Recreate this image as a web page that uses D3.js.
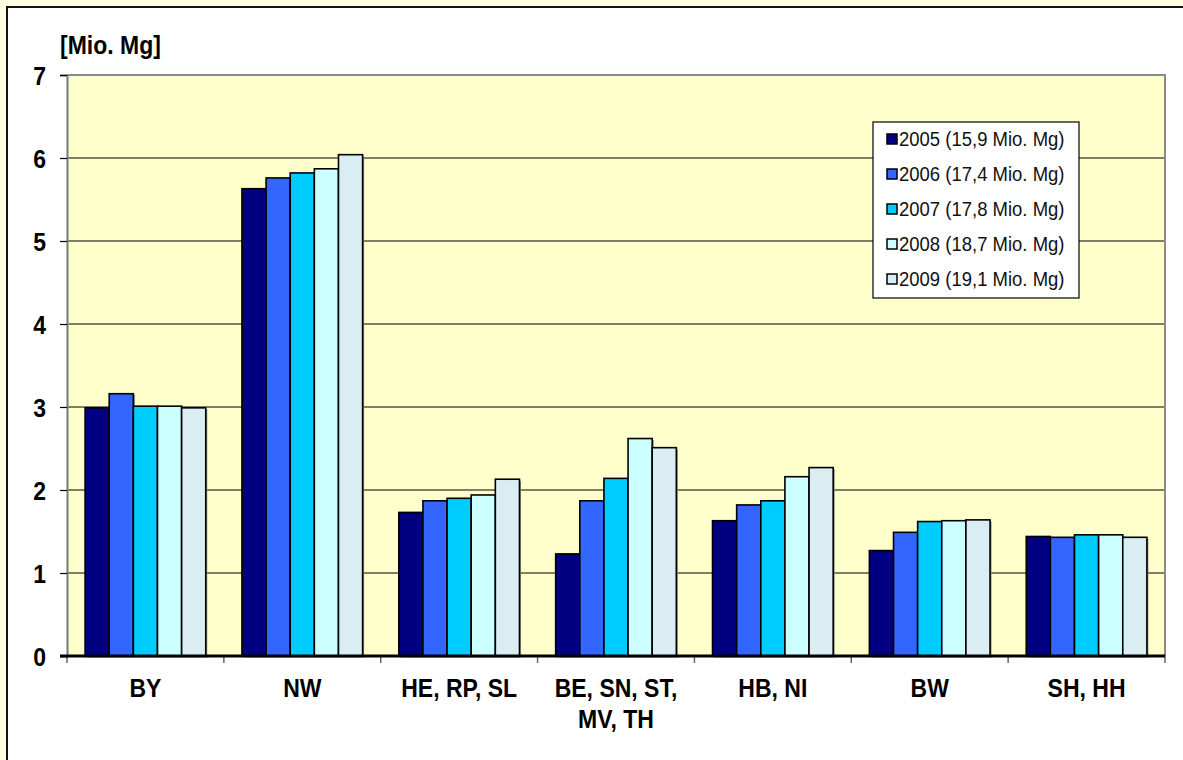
<!DOCTYPE html>
<html>
<head>
<meta charset="utf-8">
<script src="https://cdn.jsdelivr.net/npm/d3@7"></script>
<style>
  html, body { margin: 0; padding: 0; background: #fffde2; }
  svg { display: block; }
  text { font-family: "Liberation Sans", Arial, sans-serif; }
</style>
</head>
<body>
<svg id="chart" width="1183" height="760"></svg>
<script>
// Regions (grouped Länder) and yearly amounts in Mio. Mg
const categories = [["BY"], ["NW"], ["HE, RP, SL"], ["BE, SN, ST,", "MV, TH"], ["HB, NI"], ["BW"], ["SH, HH"]];
const years = ["2005", "2006", "2007", "2008", "2009"];
const legendLabels = ["2005 (15,9 Mio. Mg)", "2006 (17,4 Mio. Mg)", "2007 (17,8 Mio. Mg)", "2008 (18,7 Mio. Mg)", "2009 (19,1 Mio. Mg)"];
const values2005 = [2.99, 5.63, 1.73, 1.23, 1.63, 1.27, 1.44];
const values2006 = [3.16, 5.76, 1.87, 1.87, 1.82, 1.49, 1.43];
const values2007 = [3.01, 5.82, 1.90, 2.14, 1.87, 1.62, 1.46];
const values2008 = [3.01, 5.87, 1.94, 2.62, 2.16, 1.63, 1.46];
const values2009 = [2.99, 6.04, 2.13, 2.51, 2.27, 1.64, 1.43];
const yTicks = [0, 1, 2, 3, 4, 5, 6, 7];
const unitLabel = "[Mio. Mg]";

const series = [values2005, values2006, values2007, values2008, values2009];
const colors = ["#000080", "#3366ff", "#00ccff", "#ccffff", "#daedf3"];

// slightly tall lettering
const STRETCH = 1.1;

const svg = d3.select("#chart");

// white chart sheet with dark frame
svg.append("rect").attr("x", 7).attr("y", 7).attr("width", 1200).attr("height", 800)
  .attr("fill", "#ffffff").attr("stroke", "#111").attr("stroke-width", 2);

const plot = { left: 67, right: 1165, top: 75, bottom: 656 };

const y = d3.scaleLinear().domain([0, 7]).range([plot.bottom, plot.top]);
const catKeys = categories.map(c => c.join(" "));
const x0 = d3.scaleBand().domain(catKeys).range([plot.left, plot.right]).padding(0);
const x1 = d3.scaleBand().domain(years).range([0, x0.bandwidth()]).paddingInner(0).paddingOuter(0.75);

// plot area background
svg.append("rect").attr("x", plot.left).attr("y", plot.top)
  .attr("width", plot.right - plot.left).attr("height", plot.bottom - plot.top)
  .attr("fill", "#ffffcc");

// horizontal gridlines
svg.append("g").selectAll("line").data(yTicks.filter(t => t > 0 && t < 7)).join("line")
  .attr("x1", plot.left).attr("x2", plot.right)
  .attr("y1", d => y(d)).attr("y2", d => y(d))
  .attr("stroke", "#000").attr("stroke-width", 1.2);

// plot frame (top and right)
svg.append("path")
  .attr("d", `M${plot.left},${plot.top}H${plot.right}V${plot.bottom}`)
  .attr("fill", "none").attr("stroke", "#8a8a8a").attr("stroke-width", 2);

// bars
const groups = svg.append("g").selectAll("g").data(catKeys).join("g")
  .attr("transform", d => `translate(${x0(d)},0)`);

groups.each(function(cat, ci) {
  const g = d3.select(this);
  const rows = years.map((yr, si) => ({ yr, si, v: series[si][ci] }));
  // soft shadow on the right edge
  g.selectAll("rect.shadow").data(rows).join("rect").attr("class", "shadow")
    .attr("x", d => x1(d.yr) + 1.5).attr("y", d => y(d.v) + 1.5)
    .attr("width", x1.bandwidth()).attr("height", d => y(0) - y(d.v))
    .attr("fill", "#8c8c8c");
  g.selectAll("rect.bar").data(rows).join("rect").attr("class", "bar")
    .attr("x", d => x1(d.yr)).attr("y", d => y(d.v))
    .attr("width", x1.bandwidth()).attr("height", d => y(0) - y(d.v))
    .attr("fill", d => colors[d.si])
    .attr("stroke", "#000").attr("stroke-width", 1.6);
});

// y axis
const yAxis = d3.axisLeft(y).tickValues(yTicks).tickSize(7).tickPadding(14).tickFormat(d3.format("d"));
const gy = svg.append("g").attr("transform", `translate(${plot.left},0)`).call(yAxis);
gy.select(".domain").attr("stroke", "#777").attr("stroke-width", 2);
gy.selectAll(".tick line").attr("stroke", "#000").attr("stroke-width", 1.2);
gy.selectAll(".tick text").attr("font-size", 23).attr("font-weight", "bold")
  .attr("fill", "#000").attr("dy", "0.36em")
  .attr("transform", `scale(1,${STRETCH})`)
  .attr("font-family", "'Liberation Sans', Arial, sans-serif");

// x axis
const boundaries = catKeys.map(k => x0(k)).concat([plot.right]);
svg.append("g").selectAll("line").data(boundaries).join("line")
  .attr("x1", d => d).attr("x2", d => d)
  .attr("y1", plot.bottom).attr("y2", plot.bottom + 7)
  .attr("stroke", "#666").attr("stroke-width", 1.5);
svg.append("line").attr("x1", plot.left - 7).attr("x2", plot.right)
  .attr("y1", plot.bottom).attr("y2", plot.bottom)
  .attr("stroke", "#000").attr("stroke-width", 3);

// category labels
const xl = svg.append("g").selectAll("text").data(categories).join("text")
  .attr("transform", (d, i) => `translate(${x0(catKeys[i]) + x0.bandwidth() / 2},697) scale(1,${STRETCH + 0.04})`)
  .attr("text-anchor", "middle").attr("font-size", 23).attr("font-weight", "bold")
  .attr("fill", "#000");
xl.selectAll("tspan").data(d => d).join("tspan")
  .attr("x", 0)
  .attr("dy", (d, i) => i === 0 ? 0 : 31 / (STRETCH + 0.04))
  .text(d => d);

// unit label
svg.append("text").attr("transform", `translate(60,54) scale(1,${STRETCH})`)
  .attr("font-size", 23).attr("font-weight", "bold").attr("fill", "#000")
  .text(unitLabel);

// legend
const lg = svg.append("g").attr("transform", "translate(873,122)");
lg.append("rect").attr("width", 206).attr("height", 176)
  .attr("fill", "#fff").attr("stroke", "#000").attr("stroke-width", 1.2);
const items = lg.selectAll("g").data(legendLabels).join("g")
  .attr("transform", (d, i) => `translate(0,${17 + i * 35})`);
items.append("rect").attr("x", 14).attr("y", -5).attr("width", 10).attr("height", 10)
  .attr("fill", (d, i) => colors[i]).attr("stroke", "#000").attr("stroke-width", 1.5);
items.append("text").attr("transform", `translate(26,0) scale(1,${STRETCH})`)
  .attr("dy", "0.36em")
  .attr("font-size", 18.5).attr("fill", "#111").text(d => d);
</script>
</body>
</html>
